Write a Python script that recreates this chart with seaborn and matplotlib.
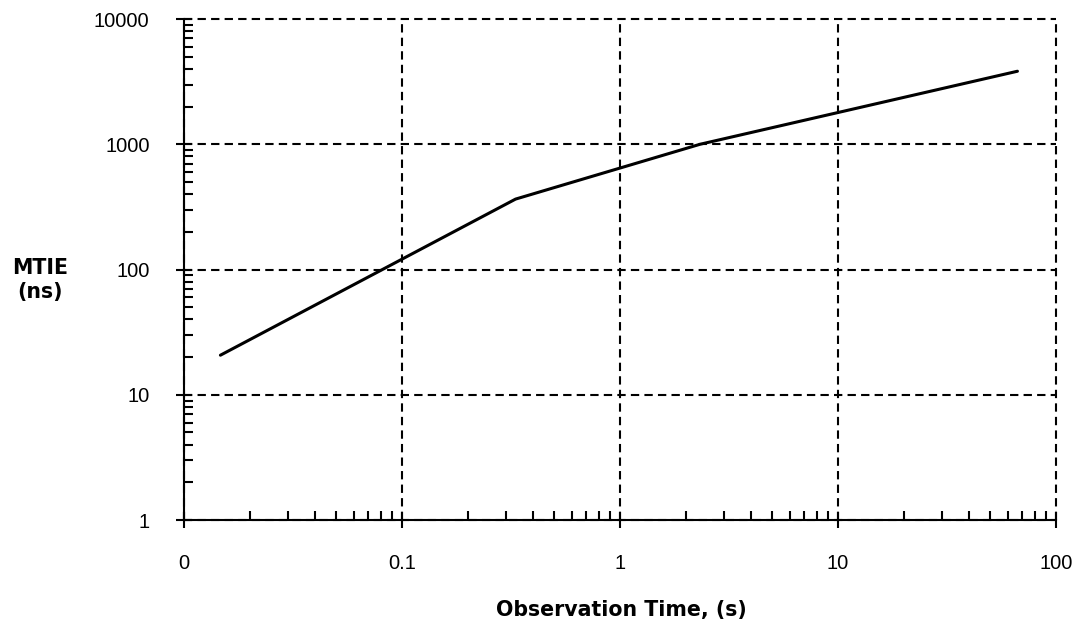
import numpy as np
import pandas as pd
import seaborn as sns
import matplotlib.pyplot as plt
from matplotlib.ticker import FixedLocator, FixedFormatter, LogLocator, NullFormatter

# données (masque MTIE)
obs_time = [0.0147, 0.332, 2.33, 66.6]
mtie_ns = [20.7, 365, 1000, 3830]

x_ticks = [0.01, 0.1, 1, 10, 100]
x_labels = ['0', '0.1', '1', '10', '100']
y_ticks = [1, 10, 100, 1000, 10000]
y_labels = ['1', '10', '100', '1000', '10000']

df = pd.DataFrame({'Observation Time, (s)': obs_time, 'MTIE (ns)': mtie_ns})

sns.set_style('white')
plt.rcParams['font.family'] = ['Liberation Sans', 'DejaVu Sans']
plt.rcParams['text.color'] = 'black'
plt.rcParams['axes.labelcolor'] = 'black'

fig = plt.figure(figsize=(10.72, 6.26), dpi=100)
ax = fig.add_axes([0.1716, 0.1693, 0.8134, 0.8003])

sns.lineplot(data=df, x='Observation Time, (s)', y='MTIE (ns)', ax=ax,
             color='black', linewidth=2.2, zorder=3)

ax.set_xscale('log')
ax.set_yscale('log')
ax.set_xlim(0.01, 100)
ax.set_ylim(1, 10000)

ax.xaxis.set_major_locator(FixedLocator(x_ticks))
ax.xaxis.set_major_formatter(FixedFormatter(x_labels))
ax.yaxis.set_major_locator(FixedLocator(y_ticks))
ax.yaxis.set_major_formatter(FixedFormatter(y_labels))
ax.xaxis.set_minor_locator(LogLocator(base=10, subs=np.arange(2, 10)))
ax.yaxis.set_minor_locator(LogLocator(base=10, subs=np.arange(2, 10)))
ax.xaxis.set_minor_formatter(NullFormatter())
ax.yaxis.set_minor_formatter(NullFormatter())

ax.tick_params(axis='both', which='major', direction='inout', length=11.5, width=1.5,
               color='black', labelsize=14.5, labelcolor='black')
ax.tick_params(axis='both', which='minor', direction='in', length=6.5, width=1.5, color='black')
ax.tick_params(axis='x', which='major', pad=19)
ax.tick_params(axis='y', which='major', pad=19)
ax.tick_params(bottom=True, left=True, which='both')

# grille pointillée (y compris le cadre haut et droit)
ax.grid(True, which='major', color='black', linestyle=(0, (4, 2.5)), linewidth=1.5)
for gl in ax.get_xgridlines() + ax.get_ygridlines():
    gl.set_clip_on(False)

for side in ['top', 'right']:
    ax.spines[side].set_visible(False)
for side in ['left', 'bottom']:
    ax.spines[side].set_color('black')
    ax.spines[side].set_linewidth(1.5)
    ax.spines[side].set_zorder(4)

ax.set_xlabel('Observation Time, (s)', fontsize=14.8, fontweight='bold',
              family='DejaVu Sans', va='center', color='black')
ax.xaxis.set_label_coords(0.502, -0.18)
ax.set_ylabel('MTIE\n(ns)', fontsize=14.8, fontweight='bold', family='DejaVu Sans',
              rotation=0, ha='center', va='center', linespacing=1.3, color='black')
ax.yaxis.set_label_coords(-0.165, 0.479)

fig.savefig('out.png', dpi=100)
